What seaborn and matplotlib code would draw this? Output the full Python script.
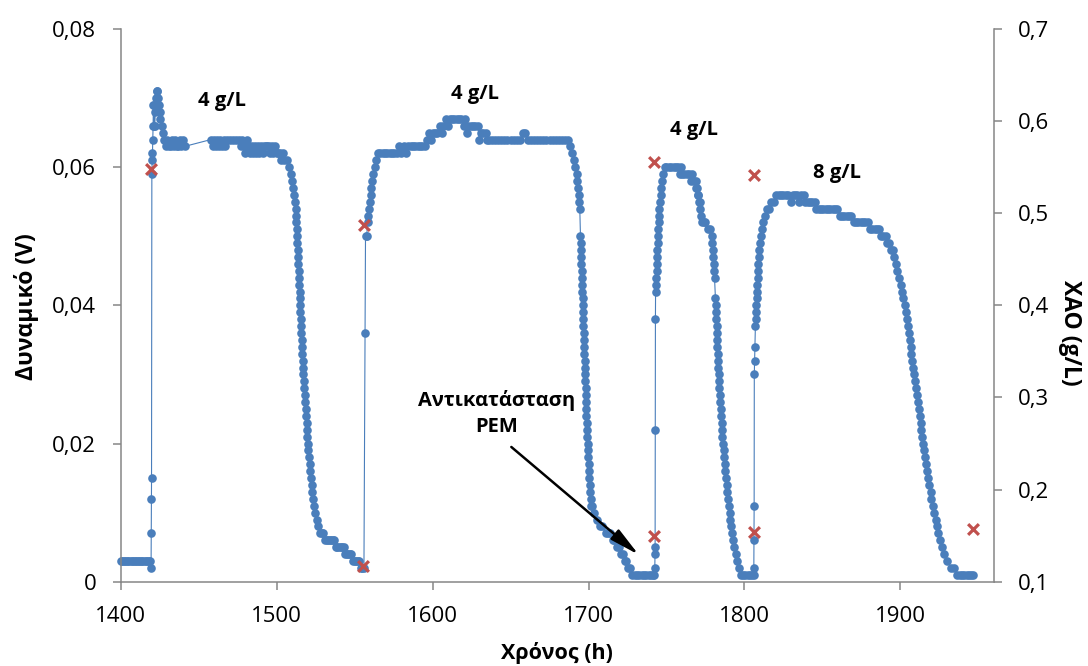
import matplotlib
matplotlib.use("Agg")
import matplotlib.pyplot as plt
from matplotlib.ticker import FuncFormatter
import pandas as pd
import seaborn as sns

# ---- Potential readings (hours, volts), one list per feeding batch ----
startup = [
    (1400, 0.003), (1401, 0.003), (1402, 0.003), (1403, 0.003), (1404, 0.003),
    (1405, 0.003), (1406, 0.003), (1407, 0.003), (1408, 0.003), (1409, 0.003),
    (1410, 0.003), (1411, 0.003), (1412, 0.003), (1413, 0.003), (1414, 0.003),
    (1415, 0.003), (1416, 0.003), (1417, 0.003), (1418, 0.003), (1419, 0.003),
]

batch1 = [
    (1419.5, 0.002), (1419.6, 0.007), (1419.7, 0.012), (1419.8, 0.015),
    (1420.0, 0.059), (1420.2, 0.061), (1420.4, 0.062), (1420.6, 0.064),
    (1420.8, 0.066), (1421.0, 0.069), (1421.3, 0.069), (1421.6, 0.066),
    (1421.9, 0.066), (1422.2, 0.068), (1422.5, 0.069), (1422.8, 0.070),
    (1423.1, 0.071), (1423.5, 0.071), (1424.0, 0.070), (1424.5, 0.069),
    (1425.0, 0.068), (1425.5, 0.067), (1426.2, 0.066), (1427.0, 0.065),
    (1428, 0.064), (1429, 0.063), (1430, 0.064), (1431, 0.063), (1432, 0.063),
    (1433, 0.064), (1434, 0.063), (1435, 0.064), (1436, 0.063), (1437, 0.063),
    (1438, 0.064), (1439, 0.063), (1440, 0.064), (1441, 0.063),
    (1458, 0.064), (1459, 0.063), (1460, 0.064), (1461, 0.063), (1462, 0.064),
    (1463, 0.063), (1464, 0.064), (1465, 0.063), (1466, 0.064), (1467, 0.063),
    (1468, 0.064), (1470, 0.064), (1472, 0.064), (1474, 0.064), (1476, 0.064),
    (1477, 0.063), (1478, 0.064), (1479, 0.063), (1480, 0.062), (1481, 0.064),
    (1482, 0.063), (1483, 0.062), (1484, 0.063), (1485, 0.062), (1486, 0.063),
    (1487, 0.062), (1488, 0.063), (1489, 0.062), (1490, 0.063), (1491, 0.062),
    (1492, 0.063), (1493, 0.063), (1494, 0.063), (1495, 0.063), (1496, 0.062),
    (1497, 0.063), (1498, 0.062), (1499, 0.063), (1500, 0.062), (1501, 0.062),
    (1502, 0.062), (1503, 0.061), (1504, 0.062), (1505, 0.061), (1506.5, 0.061),
    (1508, 0.060), (1509, 0.059), (1510, 0.058), (1510.8, 0.057), (1511.4, 0.056),
    (1511.9, 0.055), (1512.2, 0.054), (1512.5, 0.053), (1512.7, 0.052),
    (1512.9, 0.051), (1513.1, 0.050), (1513.3, 0.049), (1513.5, 0.048),
    (1513.7, 0.047), (1513.9, 0.046), (1514.1, 0.045), (1514.3, 0.044),
    (1514.5, 0.043), (1514.7, 0.042), (1514.9, 0.041), (1515.1, 0.040),
    (1515.3, 0.039), (1515.5, 0.038), (1515.7, 0.037), (1515.9, 0.036),
    (1516.1, 0.035), (1516.3, 0.034), (1516.5, 0.033), (1516.7, 0.032),
    (1516.9, 0.031), (1517.1, 0.030), (1517.4, 0.029), (1517.7, 0.028),
    (1518.0, 0.027), (1518.3, 0.026), (1518.6, 0.025), (1518.9, 0.024),
    (1519.2, 0.023), (1519.5, 0.022), (1519.8, 0.021), (1520.1, 0.020),
    (1520.4, 0.019), (1520.8, 0.018), (1521.2, 0.017), (1521.6, 0.016),
    (1522.0, 0.015), (1522.5, 0.014), (1523.0, 0.013), (1523.6, 0.012),
    (1524.2, 0.011), (1524.9, 0.010), (1525.7, 0.009), (1526.6, 0.008),
    (1528, 0.007), (1529, 0.007), (1530, 0.007), (1531, 0.006), (1532, 0.006),
    (1533, 0.006), (1534, 0.006), (1535, 0.006), (1536, 0.006), (1537, 0.006),
    (1538, 0.005), (1539, 0.005), (1540, 0.005), (1541, 0.005), (1542, 0.005),
    (1543, 0.005), (1544, 0.004), (1545, 0.004), (1546, 0.004), (1547, 0.004),
    (1548, 0.004), (1549, 0.003), (1550, 0.003), (1551, 0.003), (1552, 0.003),
    (1553, 0.003), (1554, 0.002), (1555, 0.002), (1556, 0.002),
]

batch2 = [
    (1556.7, 0.036), (1557.0, 0.050), (1557.8, 0.050), (1558.3, 0.052),
    (1558.8, 0.053), (1559.3, 0.054), (1559.8, 0.055), (1560.3, 0.056),
    (1560.8, 0.057), (1561.4, 0.058), (1562.0, 0.059), (1562.8, 0.060),
    (1563.8, 0.061), (1565, 0.062), (1566.5, 0.062), (1568, 0.062),
    (1569.5, 0.062), (1571, 0.062), (1572.5, 0.062), (1574, 0.062),
    (1575.5, 0.062), (1577, 0.062), (1578.5, 0.063), (1580, 0.062),
    (1581.5, 0.063), (1583, 0.062), (1584.5, 0.063), (1586, 0.063),
    (1587.5, 0.063), (1589, 0.063), (1590.5, 0.063), (1592, 0.063),
    (1593.5, 0.063), (1595, 0.063), (1596.5, 0.064), (1597.5, 0.065),
    (1599, 0.064), (1600, 0.065), (1601.5, 0.065), (1603, 0.065),
    (1604.5, 0.066), (1606, 0.065), (1607, 0.066), (1608.5, 0.067),
    (1610, 0.066), (1611, 0.067), (1612.5, 0.067), (1614, 0.067),
    (1615.5, 0.067), (1617, 0.067), (1618.5, 0.067), (1620, 0.066),
    (1621, 0.067), (1622, 0.065), (1623, 0.066), (1624.5, 0.066),
    (1626, 0.066), (1627.5, 0.066), (1629, 0.066), (1630, 0.064),
    (1631, 0.065), (1632.5, 0.065), (1634, 0.065), (1635, 0.064),
    (1636.5, 0.064), (1638, 0.064), (1640, 0.064), (1642, 0.064),
    (1644, 0.064), (1646, 0.064), (1648, 0.064), (1650, 0.064), (1652, 0.064),
    (1654, 0.064), (1656, 0.064), (1658, 0.065), (1659.5, 0.065), (1661, 0.064),
    (1663, 0.064), (1665, 0.064), (1667, 0.064), (1669, 0.064), (1671, 0.064),
    (1673, 0.064), (1675, 0.064), (1677, 0.064), (1679, 0.064), (1681, 0.064),
    (1683, 0.064), (1685, 0.064), (1687, 0.064), (1688, 0.063),
    (1689.5, 0.062), (1690.5, 0.061), (1691.5, 0.060), (1692.3, 0.059),
    (1692.9, 0.058), (1693.4, 0.057), (1693.8, 0.056), (1694.1, 0.055),
    (1694.4, 0.054), (1694.8, 0.050), (1694.95, 0.049), (1695.1, 0.048),
    (1695.25, 0.047), (1695.4, 0.046), (1695.55, 0.045), (1695.7, 0.044),
    (1695.85, 0.043), (1696.0, 0.042), (1696.15, 0.041), (1696.3, 0.040),
    (1696.45, 0.039), (1696.6, 0.038), (1696.75, 0.037), (1696.9, 0.036),
    (1697.05, 0.035), (1697.2, 0.034), (1697.35, 0.033), (1697.5, 0.032),
    (1697.65, 0.031), (1697.8, 0.030), (1697.95, 0.029), (1698.1, 0.028),
    (1698.25, 0.027), (1698.4, 0.026), (1698.55, 0.025), (1698.7, 0.024),
    (1698.85, 0.023), (1699.0, 0.022), (1699.2, 0.021), (1699.4, 0.020),
    (1699.6, 0.019), (1699.8, 0.018), (1700.0, 0.017), (1700.2, 0.016),
    (1700.4, 0.015), (1700.7, 0.014), (1701.0, 0.013), (1701.3, 0.012),
    (1701.7, 0.011), (1702.3, 0.011), (1703.5, 0.010), (1705.5, 0.009),
    (1707.5, 0.008), (1708.5, 0.008), (1711, 0.007), (1712.5, 0.007),
    (1714, 0.007), (1715.5, 0.006), (1716.5, 0.006), (1718.5, 0.005),
    (1719.5, 0.005), (1721, 0.004), (1722, 0.004), (1723.3, 0.003),
    (1724.3, 0.003), (1725.5, 0.002), (1726.5, 0.002), (1728, 0.001),
    (1729.5, 0.001), (1731, 0.001), (1732.5, 0.001), (1734, 0.001),
    (1735.5, 0.001), (1737, 0.001), (1738.5, 0.001), (1740, 0.001),
    (1741.5, 0.001), (1742.3, 0.001),
]

batch3 = [
    (1742.5, 0.002), (1742.6, 0.004), (1742.7, 0.005), (1742.8, 0.022),
    (1742.9, 0.038), (1743.0, 0.042), (1743.2, 0.043), (1743.4, 0.044),
    (1743.6, 0.045), (1743.8, 0.046), (1744.0, 0.047), (1744.2, 0.048),
    (1744.4, 0.049), (1744.6, 0.050), (1744.8, 0.051), (1745.0, 0.052),
    (1745.2, 0.053), (1745.5, 0.054), (1745.8, 0.055), (1746.2, 0.056),
    (1746.6, 0.057), (1747.1, 0.058), (1747.8, 0.059), (1748.8, 0.060),
    (1750, 0.060), (1751.5, 0.060), (1753, 0.060), (1754.5, 0.060),
    (1756, 0.060), (1757.5, 0.060), (1758.5, 0.059), (1759, 0.060),
    (1760, 0.059), (1761.5, 0.059), (1763, 0.059), (1764.5, 0.059),
    (1765.5, 0.058), (1766.5, 0.059), (1767.5, 0.058), (1768.6, 0.058),
    (1769.2, 0.057), (1769.6, 0.057), (1770.0, 0.056), (1770.4, 0.056),
    (1770.8, 0.055), (1771.2, 0.055), (1771.6, 0.054), (1772.0, 0.053),
    (1772.6, 0.052), (1773.8, 0.052), (1775.0, 0.052), (1776.3, 0.051),
    (1777.6, 0.051), (1779.0, 0.050), (1779.3, 0.049), (1779.6, 0.048),
    (1779.9, 0.047), (1780.2, 0.046), (1780.5, 0.045), (1780.8, 0.044),
    (1781.4, 0.041), (1781.6, 0.040), (1781.8, 0.039), (1782.0, 0.038),
    (1782.2, 0.037), (1782.35, 0.036), (1782.5, 0.035), (1782.7, 0.034),
    (1782.9, 0.033), (1783.1, 0.032), (1783.3, 0.031), (1783.5, 0.030),
    (1783.7, 0.029), (1783.9, 0.028), (1784.1, 0.027), (1784.4, 0.026),
    (1784.7, 0.025), (1785.0, 0.024), (1785.3, 0.023), (1785.6, 0.022),
    (1785.9, 0.021), (1786.2, 0.020), (1786.6, 0.019), (1786.9, 0.018),
    (1787.3, 0.017), (1787.7, 0.016), (1788.1, 0.015), (1788.5, 0.014),
    (1788.9, 0.013), (1789.4, 0.012), (1789.9, 0.011), (1790.4, 0.010),
    (1790.9, 0.009), (1791.5, 0.008), (1792.1, 0.007), (1792.8, 0.006),
    (1793.5, 0.005), (1794.3, 0.004), (1795.3, 0.003), (1796.4, 0.002),
    (1797.5, 0.001), (1799, 0.001), (1800.5, 0.001), (1802, 0.001),
    (1803.5, 0.001), (1805, 0.001), (1805.8, 0.001),
]

batch4 = [
    (1806.0, 0.002), (1806.1, 0.006), (1806.2, 0.011), (1806.3, 0.030),
    (1806.5, 0.032), (1806.7, 0.034), (1807.0, 0.037), (1807.2, 0.038),
    (1807.4, 0.039), (1807.6, 0.040), (1807.8, 0.041), (1808.0, 0.042),
    (1808.2, 0.043), (1808.4, 0.044), (1808.6, 0.045), (1808.9, 0.046),
    (1809.2, 0.047), (1809.6, 0.048), (1810.1, 0.049), (1810.7, 0.050),
    (1811.3, 0.051), (1812.0, 0.052), (1813.2, 0.053), (1814.6, 0.054),
    (1815.8, 0.054), (1817.3, 0.055), (1818.7, 0.055), (1820.5, 0.056),
    (1822, 0.056), (1823.5, 0.056), (1825, 0.056), (1826.5, 0.056),
    (1828, 0.056), (1829.6, 0.055), (1831, 0.056), (1832.5, 0.056),
    (1834, 0.056), (1835, 0.055), (1836.5, 0.056), (1838, 0.056),
    (1839, 0.055), (1840.5, 0.055), (1842, 0.055), (1843.5, 0.055),
    (1845, 0.055), (1846, 0.054), (1847.5, 0.054), (1849, 0.054),
    (1850.5, 0.054), (1852, 0.054), (1853.5, 0.054), (1855, 0.054),
    (1856.5, 0.054), (1858, 0.054), (1859.5, 0.054), (1861, 0.053),
    (1862.5, 0.053), (1864, 0.053), (1865.5, 0.053), (1867, 0.053),
    (1868.5, 0.053), (1870, 0.052), (1871.5, 0.052), (1873, 0.052),
    (1874.5, 0.052), (1876, 0.052), (1877.5, 0.052), (1879, 0.052),
    (1880.5, 0.051), (1882, 0.051), (1883.5, 0.051), (1885, 0.051),
    (1886.5, 0.051), (1887.5, 0.050), (1889, 0.050), (1890.5, 0.050),
    (1891.6, 0.049), (1892.8, 0.049), (1894.2, 0.048), (1895.2, 0.048),
    (1895.9, 0.047), (1897.0, 0.046), (1898.0, 0.045), (1899.1, 0.044),
    (1900.2, 0.043), (1901.0, 0.042), (1901.9, 0.041), (1902.7, 0.040),
    (1903.6, 0.039), (1904.4, 0.038), (1904.9, 0.037), (1905.5, 0.036),
    (1906.1, 0.035), (1906.6, 0.034), (1907.1, 0.033), (1907.6, 0.032),
    (1908.1, 0.031), (1908.7, 0.030), (1909.3, 0.029), (1909.9, 0.028),
    (1910.5, 0.027), (1911.1, 0.026), (1911.8, 0.025), (1912.3, 0.024),
    (1912.9, 0.023), (1913.4, 0.022), (1914.0, 0.021), (1914.6, 0.020),
    (1915.3, 0.019), (1915.9, 0.018), (1916.6, 0.017), (1917.3, 0.016),
    (1918.0, 0.015), (1918.6, 0.014), (1919.3, 0.013), (1919.9, 0.012),
    (1920.7, 0.011), (1921.6, 0.010), (1922.5, 0.009), (1923.4, 0.008),
    (1924.3, 0.007), (1925.4, 0.006), (1926.6, 0.005), (1928.1, 0.004),
    (1930.0, 0.003), (1932.5, 0.002), (1934.3, 0.002), (1936.5, 0.001),
    (1938, 0.001), (1939.5, 0.001), (1941, 0.001), (1942.5, 0.001),
    (1944, 0.001), (1945.5, 0.001), (1946.5, 0.001),
]

# ---- COD samples (right axis) ----
cod_hours = [1419.4, 1555.7, 1556.1, 1742.3, 1742.3, 1806.0, 1806.0, 1946.6]
cod_values = [0.548, 0.117, 0.487, 0.150, 0.556, 0.154, 0.542, 0.157]

# ---- Batch labels ----
batch_labels = ["4 g/L", "4 g/L", "4 g/L", "8 g/L"]
batch_label_xy = [(1464.8, 0.0696), (1627.4, 0.0706), (1767.4, 0.0654), (1859.6, 0.0591)]

BLUE = "#4A7EBB"
RED = "#C0504D"
GREY = "#868686"

sns.set_theme(style="white")
plt.rcParams["font.family"] = ["Open Sans", "DejaVu Sans"]

potential = pd.DataFrame(startup + batch1 + batch2 + batch3 + batch4,
                         columns=["hours", "volts"])
cod = pd.DataFrame({"hours": cod_hours, "cod": cod_values})

fig = plt.figure(figsize=(10.88, 6.66), dpi=100)
ax = fig.add_axes([0.1109, 0.1266, 0.8027, 0.8299])
ax2 = ax.twinx()

sns.lineplot(data=potential, x="hours", y="volts", ax=ax, estimator=None,
             sort=False, color=BLUE, linewidth=0.8, marker="o",
             markersize=6.2, markeredgewidth=0, clip_on=False)
sns.scatterplot(data=cod, x="hours", y="cod", ax=ax2, marker="x", s=60,
                color=RED, linewidth=2.3, zorder=5)

ax.set_xlim(1400, 1960)
ax.set_ylim(0, 0.08)
ax2.set_ylim(0.1, 0.7)
ax.set_xticks([1400, 1500, 1600, 1700, 1800, 1900])
ax.set_yticks([0, 0.02, 0.04, 0.06, 0.08])
ax2.set_yticks([0.1, 0.2, 0.3, 0.4, 0.5, 0.6, 0.7])


def comma(v, _pos):
    return ("%g" % round(v, 4)).replace(".", ",")


ax.yaxis.set_major_formatter(FuncFormatter(comma))
ax2.yaxis.set_major_formatter(FuncFormatter(comma))

for a in (ax, ax2):
    for side in ("top", "left", "right", "bottom"):
        a.spines[side].set_visible(False)
ax.spines["left"].set_visible(True)
ax.spines["bottom"].set_visible(True)
ax2.spines["right"].set_visible(True)
for sp in (ax.spines["left"], ax.spines["bottom"], ax2.spines["right"]):
    sp.set_color(GREY)
    sp.set_linewidth(1.1)

ax.tick_params(axis="both", direction="out", length=6, width=1.1, color=GREY,
               labelsize=16, labelcolor="black", pad=11.5,
               left=True, bottom=True)
ax2.tick_params(axis="y", direction="out", length=6, width=1.1, color=GREY,
                labelsize=16, labelcolor="black", pad=11.5, right=True)

ax.set_xlabel("Χρόνος (h)", fontsize=15.5, fontweight="bold", color="black")
ax.xaxis.set_label_coords(0.5, -0.129)
ax.xaxis.label.set_verticalalignment("center")
ax.set_ylabel("Δυναμικό (V)", fontsize=16.5, fontweight="bold", color="black")
ax.yaxis.set_label_coords(-0.108, 0.497)
ax.yaxis.label.set_verticalalignment("center")
ax2.set_ylabel("ΧΑΟ (g/L)", fontsize=16.5, fontweight="bold", color="black",
               rotation=270)
ax2.yaxis.set_label_coords(1.087, 0.45)
ax2.yaxis.label.set_verticalalignment("center")

for text, (hx, vy) in zip(batch_labels, batch_label_xy):
    ax.text(hx, vy, text, ha="center", va="center", fontsize=14.5,
            fontweight="bold", color="black")

ax.text(1640.9, 0.0244, "Αντικατάσταση\nPEM", ha="center", va="center",
        fontsize=14.5, fontweight="bold", color="black", linespacing=1.4)
ax.annotate("", xy=(1732.2, 0.0039), xytext=(1650.5, 0.0195),
            arrowprops=dict(arrowstyle="-|>,head_length=1.5,head_width=0.32",
                            color="black", lw=1.8, shrinkA=0, shrinkB=0))

fig.savefig("out.png", dpi=100)
